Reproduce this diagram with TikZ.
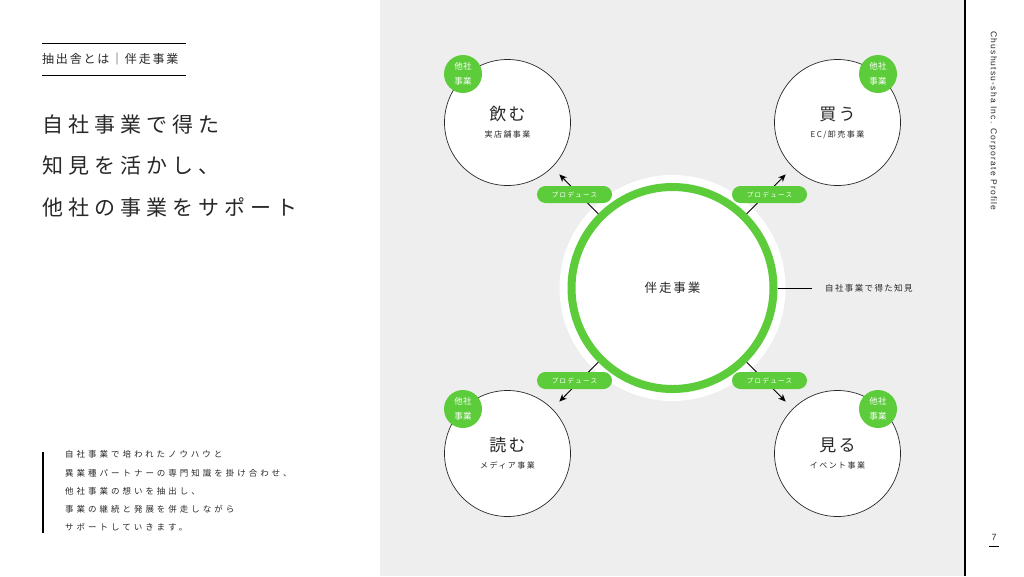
\documentclass[tikz,border=0pt]{standalone}
\usepackage{fontspec}
\setmainfont{Noto Sans CJK JP}
\newfontfamily\latinfont{Liberation Sans}
\usetikzlibrary{arrows.meta, positioning, calc}
\definecolor{csgreen}{RGB}{92,204,58}
\definecolor{csgrey}{RGB}{238,238,238}
\definecolor{csink}{RGB}{40,40,40}
\tikzset{
  heading/.style  = {anchor=west, inner sep=0pt, text=csink,
                     font=\fontsize{12}{14}\selectfont\addfontfeatures{LetterSpace=15}},
  title/.style    = {anchor=west, inner sep=0pt, align=left, text=csink,
                     font=\fontsize{21}{41.5}\selectfont\addfontfeatures{LetterSpace=24}},
  body/.style     = {anchor=west, inner sep=0pt, align=left, text=csink,
                     font=\fontsize{8.5}{18.2}\selectfont\addfontfeatures{LetterSpace=35}},
  halo/.style     = {circle, fill=white, minimum size=226pt, inner sep=0pt},
  hub/.style      = {circle, draw=csgreen, line width=8pt, fill=white, minimum size=202pt,
                     inner sep=0pt, text=csink,
                     font=\fontsize{12.5}{14}\selectfont\addfontfeatures{LetterSpace=15}},
  sat/.style      = {circle, draw=csink, line width=0.7pt, fill=white, minimum size=126pt,
                     inner sep=0pt, align=center, text=csink},
  badge/.style    = {circle, fill=csgreen, minimum size=38pt, inner sep=0pt, align=center,
                     text=white, font=\fontsize{8.5}{14.5}\selectfont\addfontfeatures{LetterSpace=5}},
  pill/.style     = {rectangle, rounded corners=8.5pt, fill=csgreen, minimum width=75pt,
                     minimum height=17pt, inner sep=0pt, text=white,
                     font=\fontsize{6.5}{8}\selectfont\addfontfeatures{LetterSpace=20}},
  prod/.style     = {-{Stealth[length=7.5pt, width=6.5pt]}, line width=0.9pt, draw=black,
                     shorten >=10pt},
  note/.style     = {anchor=west, inner xsep=13pt, inner ysep=0pt, text=csink,
                     font=\fontsize{8.5}{10}\selectfont\addfontfeatures{LetterSpace=16}},
}
\newcommand{\satmain}{\fontsize{17}{20}\selectfont\addfontfeatures{LetterSpace=12}}
\newcommand{\satsub}{\fontsize{8}{10}\selectfont\addfontfeatures{LetterSpace=18}}

\begin{document}
\begin{tikzpicture}[x=1pt, y=-1pt]
  \useasboundingbox (0,0) rectangle (1024,576);
  % panels
  \fill[csgrey] (380,0) rectangle (965,576);
  \draw[line width=1.2pt] (965,0) -- (965,576);

  % left column
  \draw[line width=1pt] (42,43) -- (186,43);
  \draw[line width=1pt] (42,75) -- (186,75);
  \node[heading] (head) at (42,59) {抽出舎とは｜伴走事業};
  \node[title] (title) at (42,166) {自社事業で得た\\知見を活かし、\\他社の事業をサポート};
  \draw[line width=1.3pt] (43,452) -- (43,533);
  \node[body] (body) at (65,491) {自社事業で培われたノウハウと\\異業種パートナーの専門知識を掛け合わせ、\\他社事業の想いを抽出し、\\事業の継続と発展を併走しながら\\サポートしていきます。};

  % hub
  \node[halo] (halo) at (672.5,288) {};
  \node[hub] (hub) at (halo) {伴走事業};
  \node[note] (know) at (812,288) {自社事業で得た知見};
  \draw[line width=0.8pt] (hub.east) -- (know.west);

  % satellites
  \node[sat] (drink) at (507.5,122.5) {{\satmain 飲む}\\[5pt]{\satsub 実店舗事業}};
  \node[sat] (buy)   at (837.5,122.5) {{\satmain 買う}\\[5pt]{\satsub EC/卸売事業}};
  \node[sat] (read)  at (507.5,453.5) {{\satmain 読む}\\[5pt]{\satsub メディア事業}};
  \node[sat] (see)   at (837.5,453.5) {{\satmain 見る}\\[5pt]{\satsub イベント事業}};
  \node[badge] (b1) at (463,74)  {他社\\事業};
  \node[badge] (b2) at (878,74)  {他社\\事業};
  \node[badge] (b3) at (463,409) {他社\\事業};
  \node[badge] (b4) at (878,409) {他社\\事業};

  % produce arrows
  \draw[prod] (hub.135) -- (drink.-45);
  \draw[prod] (hub.45)  -- (buy.-135);
  \draw[prod] (hub.-135) -- (read.45);
  \draw[prod] (hub.-45) -- (see.135);
  \node[pill] (p1) at (574.5,194.5) {プロデュース};
  \node[pill] (p2) at (769.5,194.5) {プロデュース};
  \node[pill] (p3) at (574.5,380.5) {プロデュース};
  \node[pill] (p4) at (769.5,380.5) {プロデュース};

  % right strip
  \node[rotate=-90, inner sep=0pt, text=csink,
        font=\latinfont\fontsize{8.5}{10}\selectfont\addfontfeatures{LetterSpace=14}]
        (brand) at (993,121) {Chushutsu-sha Inc. Corporate Profile};
  \node[inner sep=0pt, text=csink, font=\latinfont\fontsize{9}{10}\selectfont] (page) at (994,537) {7};
  \draw[line width=0.8pt] (989,546) -- (999,546);
\end{tikzpicture}
\end{document}
